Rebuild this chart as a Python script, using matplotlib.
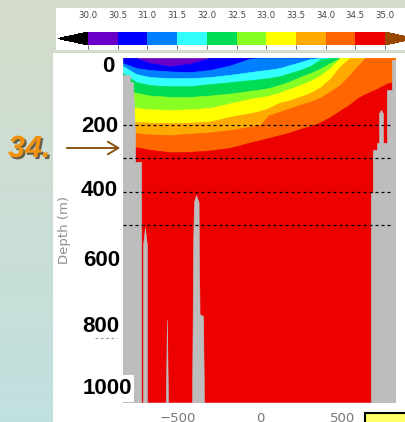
import numpy as np
import matplotlib
matplotlib.use('Agg')
import matplotlib.pyplot as plt
from matplotlib.colors import ListedColormap, BoundaryNorm
from matplotlib.patches import Rectangle, FancyArrowPatch
from matplotlib.lines import Line2D
import matplotlib.patheffects as pe
import matplotlib.cm as cm

W, H, DPI = 406, 422, 100

# ---------------- data ----------------
levels = [30.0, 30.5, 31.0, 31.5, 32.0, 32.5, 33.0, 33.5, 34.0, 34.5, 35.0]
band_colors = ['#6a00c8', '#0000ff', '#0080ff', '#33ffff', '#00dd55',
               '#88ff22', '#ffff00', '#ffaa00', '#ff6600', '#ec0000']
under_color = '#000000'
over_color = '#9a4800'

# along-section distance (km) where the isohaline depths were read
x_pos = [-830, -750, -665, -545, -425, -305, -180, -60, 0, 50, 120, 180,
         240, 305, 365, 425, 485, 545, 590, 635, 700, 770, 818]
# isohaline depths (m)
iso_30_5 = [0, 0, 15, 24, 17, 0, 0, 0, 0, 0, 0, 0, 0, 0, 0, 0, 0, 0, 0, 0, 0, 0, 0]
iso_31_0 = [15, 30, 36, 40, 42, 36, 22, 2, 0, 0, 0, 0, 0, 0, 0, 0, 0, 0, 0, 0, 0, 0, 0]
iso_31_5 = [24, 48, 57, 60, 60, 57, 50, 42, 38, 35, 30, 21, 13, 3, 0, 0, 0, 0, 0, 0, 0, 0, 0]
iso_32_0 = [45, 72, 81, 84, 84, 78, 72, 66, 63, 60, 54, 45, 36, 24, 4, 0, 0, 0, 0, 0, 0, 0, 0]
iso_32_5 = [95, 104, 112, 116, 116, 112, 106, 98, 94, 90, 80, 70, 57, 45, 32, 15, 0, 0, 0, 0, 0, 0, 0]
iso_33_0 = [145, 149, 153, 155, 153, 149, 135, 122, 117, 113, 103, 92, 81, 68, 52, 30, 0, 0, 0, 0, 0, 0, 0]
iso_33_5 = [190, 191, 193, 194, 193, 190, 175, 165, 158, 150, 133, 126, 116, 104, 88, 62, 25, 0, 0, 0, 0, 0, 0]
iso_34_0 = [222, 224, 228, 230, 226, 222, 215, 205, 200, 172, 160, 150, 140, 130, 118, 100, 80, 50, 25, 0, 0, 0, 0]
iso_34_5 = [262, 266, 274, 281, 280, 276, 268, 252, 245, 239, 230, 222, 212, 203, 192, 176, 157, 138, 120, 108, 94, 76, 70]
isohalines = [iso_30_5, iso_31_0, iso_31_5, iso_32_0, iso_32_5,
              iso_33_0, iso_33_5, iso_34_0, iso_34_5]
max_depth = 1027

# topography (gray masks)
left_wall_depth = [0, 51, 51, 72, 72, 221, 310, 310, 1040]
left_wall_x = [-835, -835, -788, -788, -770, -758, -758, -721, -721]
right_wall_depth = [0, 6, 6, 96, 96, 254, 254, 275, 275, 403, 403, 1040]
right_wall_x = [823, 823, 800, 800, 770, 770, 709, 709, 685, 685, 673, 673]
ridge1_depth = [507, 560, 1040]
ridge1_left = [-697, -709, -709]
ridge1_right = [-697, -685, -685]
ridge2_depth = [782, 1040]
ridge2_left = [-564, -571]
ridge2_right = [-564, -557]
ridge3_depth = [409, 430, 575, 765, 770, 1040]
ridge3_left = [-388, -400, -406, -408, -408, -412]
ridge3_right = [-388, -372, -370, -366, -345, -339]
sliver_depth = [155, 165, 260]
sliver_left = [733, 721, 721]
sliver_right = [733, 745, 745]

dashed_depths = [200, 300, 400, 500]
depth_labels = ['0', '200', '400', '600', '800', '1000']
x_ticks = [-500, 0, 500]

# ---------------- figure ----------------
fig = plt.figure(figsize=(W / DPI, H / DPI), dpi=DPI)

def fx(px):
    return px / W

def fy(py):
    return 1 - py / H

# slide background gradient
bg = fig.add_axes([0, 0, 1, 1], zorder=-20)
top = np.array([0.835, 0.862, 0.795])
bot = np.array([0.755, 0.880, 0.875])
t = np.linspace(0, 1, 256)[:, None]
grad = (top[None, :] * (1 - t) + bot[None, :] * t)[:, None, :]
bg.imshow(grad, aspect='auto', extent=[0, 1, 0, 1])
bg.axis('off')

# white panels
fig.patches.append(Rectangle((fx(56), fy(50)), fx(406) - fx(56), fy(8) - fy(50),
                             transform=fig.transFigure, facecolor='white',
                             edgecolor='none', zorder=-5))
fig.patches.append(Rectangle((fx(53), 0), 1 - fx(53), fy(53),
                             transform=fig.transFigure, facecolor='white',
                             edgecolor='none', zorder=-5))

# main section axes
ax = fig.add_axes([fx(123), fy(402), fx(395) - fx(123), fy(58) - fy(402)])
gray = '#bdbdbd'
ax.set_facecolor(gray)
upper = [0] * len(x_pos)
for k, col in enumerate(band_colors):
    lower = isohalines[k] if k < len(isohalines) else [max_depth] * len(x_pos)
    ax.fill_between(x_pos, upper, lower, facecolor=col, edgecolor=col, lw=0.4)
    upper = lower

ax.fill_betweenx(left_wall_depth, -900, left_wall_x, facecolor=gray, edgecolor=gray, lw=0.5)
ax.fill_betweenx(right_wall_depth, right_wall_x, 900, facecolor=gray, edgecolor=gray, lw=0.5)
for d, l, r in [(ridge1_depth, ridge1_left, ridge1_right),
                (ridge2_depth, ridge2_left, ridge2_right),
                (ridge3_depth, ridge3_left, ridge3_right),
                (sliver_depth, sliver_left, sliver_right)]:
    ax.fill_betweenx(d, l, r, facecolor=gray, edgecolor=gray, lw=0.4)

ax.hlines(dashed_depths, -830, 800, colors='black', linestyles=(0, (2.4, 2.4)), lw=0.9)

ax.set_xlim(-830, 818)
ax.set_ylim(max_depth, 0)
for s in ax.spines.values():
    s.set_visible(False)
ax.set_yticks([])
ax.set_xticks(x_ticks)
ax.set_xticklabels(['\u2212500', '0', '500'])
ax.tick_params(axis='x', length=0, pad=7, labelsize=9.5, labelcolor='#777777')

# colorbar (interior 88..385 px, triangles 30 px each side)
cax = fig.add_axes([fx(58), fy(45), fx(415) - fx(58), fy(32) - fy(45)])
cmap = ListedColormap(band_colors)
cmap.set_under(under_color)
cmap.set_over(over_color)
norm = BoundaryNorm(levels, cmap.N)
sm = cm.ScalarMappable(norm=norm, cmap=cmap)
cb = fig.colorbar(sm, cax=cax, orientation='horizontal', extend='both',
                  extendfrac=30 / 297, ticks=levels)
cb.outline.set_visible(False)
cb.set_ticklabels([f'{v:.1f}' for v in levels])
cax.tick_params(axis='x', top=False, bottom=True, labeltop=True, labelbottom=False,
                length=3, width=0.6, color='#555555', labelsize=6.2,
                labelcolor='#444444', pad=6)

# overlay depth labels
label_pos = [(115, 67), (118, 126), (118, 191), (120, 260), (119, 326), (132, 389)]
fig.patches.append(Rectangle((fx(78), fy(402)), fx(134) - fx(78), fy(375) - fy(402),
                             transform=fig.transFigure, facecolor='white',
                             edgecolor='none', zorder=2))
for lab, (px, py) in zip(depth_labels, label_pos):
    fig.text(fx(px), fy(py), lab, ha='right', va='center', fontsize=16,
             fontweight='bold', family='Liberation Sans', color='black', zorder=3)

fig.text(fx(65), fy(230), 'Depth (m)', rotation=90, ha='center', va='center',
         fontsize=9.5, color='#8f8f8f')

fig.text(fx(8), fy(149), '34.', ha='left', va='center', fontsize=22,
         fontweight='bold', fontstyle='italic', family='Liberation Sans',
         color='#f0920e',
         path_effects=[pe.withSimplePatchShadow(offset=(1.5, -1.5),
                                                shadow_rgbFace='#3a2a10', alpha=0.7)])

arrow = FancyArrowPatch((fx(64), fy(148)), (fx(123), fy(148)),
                        transform=fig.transFigure,
                        arrowstyle='->,head_length=0.75,head_width=0.45',
                        mutation_scale=10, color='#8c5514', lw=1.4, zorder=3)
fig.patches.append(arrow)

fig.lines.append(Line2D([fx(95), fx(117)], [fy(338), fy(338)], transform=fig.transFigure,
                        color='#9a9a9a', lw=0.8, linestyle=(0, (2.4, 2.4))))

fig.patches.append(Rectangle((fx(365), fy(440)), fx(60), fy(413) - fy(440),
                             transform=fig.transFigure, facecolor='#ffff66',
                             edgecolor='black', lw=1.5, zorder=3))

fig.savefig('out.png', dpi=DPI)
